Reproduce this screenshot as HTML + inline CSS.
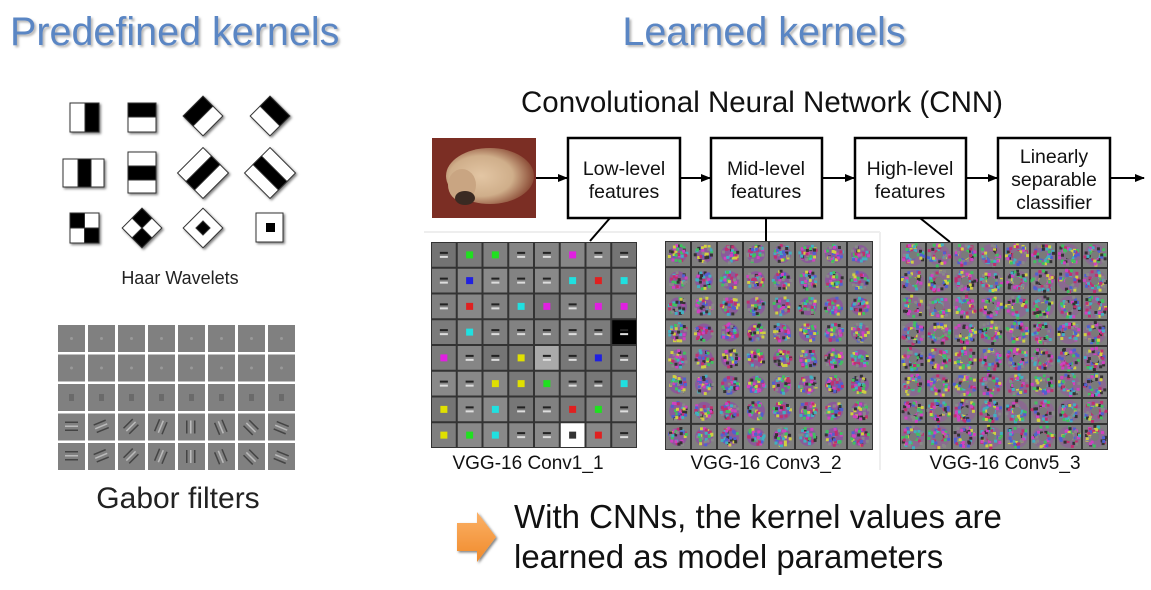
<!DOCTYPE html>
<html><head><meta charset="utf-8"><style>
html,body{margin:0;padding:0;background:#fff;width:1151px;height:590px;overflow:hidden}
svg{display:block}
text{font-family:"Liberation Sans",sans-serif}
</style></head><body>
<svg id="s" width="1151" height="590" viewBox="0 0 1151 590" xmlns="http://www.w3.org/2000/svg">
<defs>
<filter id="sh" x="-10%" y="-10%" width="130%" height="140%"><feDropShadow dx="2" dy="2" stdDeviation="1" flood-color="#888" flood-opacity="0.6"/></filter>
<filter id="hs"><feDropShadow dx="1.5" dy="1.5" stdDeviation="1.2" flood-color="#000" flood-opacity="0.5"/></filter>
<marker id="ar" markerWidth="10" markerHeight="10" refX="9" refY="5" orient="auto" markerUnits="userSpaceOnUse"><path d="M0,1 L10,5 L0,9 z" fill="#000"/></marker>
<linearGradient id="og" x1="0" y1="0" x2="0" y2="1"><stop offset="0" stop-color="#fbb168"/><stop offset="1" stop-color="#f08a2a"/></linearGradient>
<radialGradient id="dog" cx="0.4" cy="0.5" r="0.6"><stop offset="0" stop-color="#e3c6a4"/><stop offset="0.6" stop-color="#cfae8a"/><stop offset="1" stop-color="#8a4a35"/></radialGradient>
</defs>
<text x="10" y="45" font-size="39.5" fill="#5a86c4" filter="url(#sh)">Predefined kernels</text>
<text x="764" y="45" font-size="39.5" fill="#5a86c4" text-anchor="middle" filter="url(#sh)">Learned kernels</text>
<text x="762" y="112" font-size="29.5" fill="#111" text-anchor="middle">Convolutional Neural Network (CNN)</text>

<g id="haar" stroke="#333" stroke-width="1" filter="url(#hs)">
<rect x="70" y="103" width="29" height="29" fill="#fff"/><rect x="85" y="103" width="14" height="29" fill="#000"/>
<rect x="128" y="103" width="28" height="29" fill="#fff"/><rect x="128" y="103" width="28" height="14" fill="#000"/>
<g transform="translate(203,116) rotate(45)"><rect x="-14" y="-14" width="28" height="28" fill="#fff"/><rect x="-14" y="-14" width="14" height="28" fill="#000"/></g>
<g transform="translate(270,116) rotate(45)"><rect x="-14" y="-14" width="28" height="28" fill="#fff"/><rect x="-14" y="-14" width="28" height="14" fill="#000"/></g>
<rect x="63" y="159" width="41" height="28" fill="#fff"/><rect x="78" y="159" width="13" height="28" fill="#000"/>
<rect x="128" y="152" width="28" height="41" fill="#fff"/><rect x="128" y="166" width="28" height="14" fill="#000"/>
<g transform="translate(203,173) rotate(45)"><rect x="-18" y="-18" width="36" height="36" fill="#fff"/><rect x="-6" y="-18" width="12" height="36" fill="#000"/></g>
<g transform="translate(270,173) rotate(45)"><rect x="-18" y="-18" width="36" height="36" fill="#fff"/><rect x="-18" y="-6" width="36" height="12" fill="#000"/></g>
<rect x="70" y="213" width="29" height="30" fill="#fff"/><rect x="70" y="213" width="14.5" height="15" fill="#000"/><rect x="84.5" y="228" width="14.5" height="15" fill="#000"/>
<g transform="translate(142,228) rotate(45)"><rect x="-14" y="-14" width="28" height="28" fill="#fff"/><rect x="-14" y="-14" width="14" height="14" fill="#000"/><rect x="0" y="0" width="14" height="14" fill="#000"/></g>
<g transform="translate(203,228) rotate(45)"><rect x="-14" y="-14" width="28" height="28" fill="#fff"/><rect x="-5" y="-5" width="10" height="10" fill="#000"/></g>
<rect x="256" y="213" width="27" height="29" fill="#fff"/><rect x="266" y="223" width="9" height="9" fill="#000" stroke="none"/>
</g>
<text x="180" y="284" font-size="18" fill="#222" text-anchor="middle">Haar Wavelets</text>

<g id="gabor"></g>
<text x="178" y="508" font-size="30" fill="#222" text-anchor="middle">Gabor filters</text>

<rect x="432" y="138" width="104" height="80" fill="#7b2e24"/>
<ellipse cx="490" cy="176" rx="44" ry="28" fill="url(#dog)"/>
<ellipse cx="462" cy="185" rx="14" ry="16" fill="#c9a582"/>
<ellipse cx="465" cy="198" rx="10" ry="7" fill="#3a2a22"/>
<g stroke="#000" stroke-width="2.5" fill="#fff">
<rect x="568" y="138" width="112" height="80"/>
<rect x="711" y="138" width="111" height="80"/>
<rect x="855" y="138" width="111" height="80"/>
<rect x="998" y="138" width="112" height="80"/>
</g>
<g stroke="#000" stroke-width="2" marker-end="url(#ar)">
<line x1="536" y1="178" x2="567" y2="178"/>
<line x1="680" y1="178" x2="710" y2="178"/>
<line x1="822" y1="178" x2="854" y2="178"/>
<line x1="966" y1="178" x2="997" y2="178"/>
<line x1="1110" y1="178" x2="1144" y2="178"/>
</g>
<g font-size="19.5" fill="#111" text-anchor="middle">
<text x="624" y="175">Low-level</text><text x="624" y="198">features</text>
<text x="766" y="175">Mid-level</text><text x="766" y="198">features</text>
<text x="910" y="175">High-level</text><text x="910" y="198">features</text>
<text x="1054" y="163">Linearly</text><text x="1054" y="186">separable</text><text x="1054" y="209">classifier</text>
</g>
<line x1="424" y1="232" x2="880" y2="232" stroke="#eee" stroke-width="2"/>
<line x1="880" y1="232" x2="880" y2="470" stroke="#eee" stroke-width="2"/>
<g stroke="#000" stroke-width="2">
<line x1="610" y1="218" x2="590" y2="241"/>
<line x1="766" y1="218" x2="766" y2="242"/>
<line x1="920" y1="218" x2="950" y2="242"/>
</g>
<g id="c1"></g><g id="c3"></g><g id="c5"></g>
<g font-size="19" fill="#111" text-anchor="middle">
<text x="528" y="469">VGG-16 Conv1_1</text>
<text x="766" y="469">VGG-16 Conv3_2</text>
<text x="1005" y="469">VGG-16 Conv5_3</text>
</g>
<path d="M457,523 L477,523 L477,512 L496,537 L477,562 L477,551 L457,551 z" fill="url(#og)" filter="url(#hs)"/>
<text x="514" y="528" font-size="33" fill="#111">With CNNs, the kernel values are</text>
<text x="514" y="568" font-size="33" fill="#111">learned as model parameters</text>
</svg>
<script>
var NS="http://www.w3.org/2000/svg";
function el(p,t,a){var e=document.createElementNS(NS,t);for(var k in a)e.setAttribute(k,a[k]);p.appendChild(e);return e;}
var seed=7;function r(){seed=(seed*16807)%2147483647;return seed/2147483647;}
var g=document.getElementById('gabor');
for(var i=0;i<5;i++)for(var j=0;j<8;j++){
 var x=58+j*30,y=325+i*29.5;
 el(g,'rect',{x:x,y:y,width:27,height:27,fill:'#808080'});
 if(i>=3){var n=3;for(var k=0;k<n;k++){el(g,'rect',{x:x+8+k*4,y:y+7,width:1.5,height:13,fill:k%2?'#bbb':'#444',transform:'rotate('+(90-j*22.5)+' '+(x+13.5)+' '+(y+13.5)+')'});}}
 else if(i==2){el(g,'rect',{x:x+11,y:y+10,width:5,height:7,fill:'#6a6a6a'});}
 else el(g,'circle',{cx:x+13.5,cy:y+13.5,r:1.5,fill:'#999'});
}
var cols=['#e0e000','#e02020','#e020e0','#2020e0','#20e020','#20e0e0','#dddddd','#333','#e08800'];
var bcols=['#d040c0','#40c060','#5060d0','#d0d040','#c03070','#40b0c0','#888','#333'];
function grid(id,x0,y0,w,h,type){
 var G=document.getElementById(id);var cw=w/8,ch=h/8;
 el(G,'rect',{x:x0,y:y0,width:w,height:h,fill:'#333'});
 for(var i=0;i<8;i++)for(var j=0;j<8;j++){
  var x=x0+j*cw,y=y0+i*ch;var bg='#7f7f7f';
  if(type==1){var v=115+Math.floor(r()*25);bg='rgb('+v+','+v+','+v+')';if(i==3&&j==7)bg='#000';if(i==7&&j==5)bg='#fff';if(i==4&&j==4)bg='#aaa';}
  el(G,'rect',{x:x+1,y:y+1,width:cw-2,height:ch-2,fill:bg});
  if(type==1){var s=7;var c=r()<0.5?cols[Math.floor(r()*6)]:'#444';if(c=='#444'){el(G,'rect',{x:x+cw/2-4,y:y+ch/2-3,width:8,height:2,fill:'#222'});el(G,'rect',{x:x+cw/2-4,y:y+ch/2+1,width:8,height:2,fill:'#ddd'});}
   else el(G,'rect',{x:x+cw/2-s/2,y:y+ch/2-s/2,width:s,height:s,fill:(i==7&&j==5)?'#333':c});}
  else{var cx=x+cw/2,cy=y+ch/2,R=type==3?9:11;
   el(G,'circle',{cx:cx,cy:cy,r:R,fill:type==3?'#8a5a9a':'#8a6a90'});
   for(var k=0;k<(type==3?30:40);k++){var a=r()*6.28,d=Math.sqrt(r())*R;
    el(G,'rect',{x:cx+Math.cos(a)*d-1.5,y:cy+Math.sin(a)*d-1.5,width:3,height:3,fill:bcols[Math.floor(r()*8)]});}
   if(type==5)el(G,'circle',{cx:cx,cy:cy,r:4,fill:'#7a7a7a'});}
 }
}
grid('c1',431,242,206,206,1);
grid('c3',665,241,208,209,3);
grid('c5',900,242,208,208,5);
</script>
</body></html>
